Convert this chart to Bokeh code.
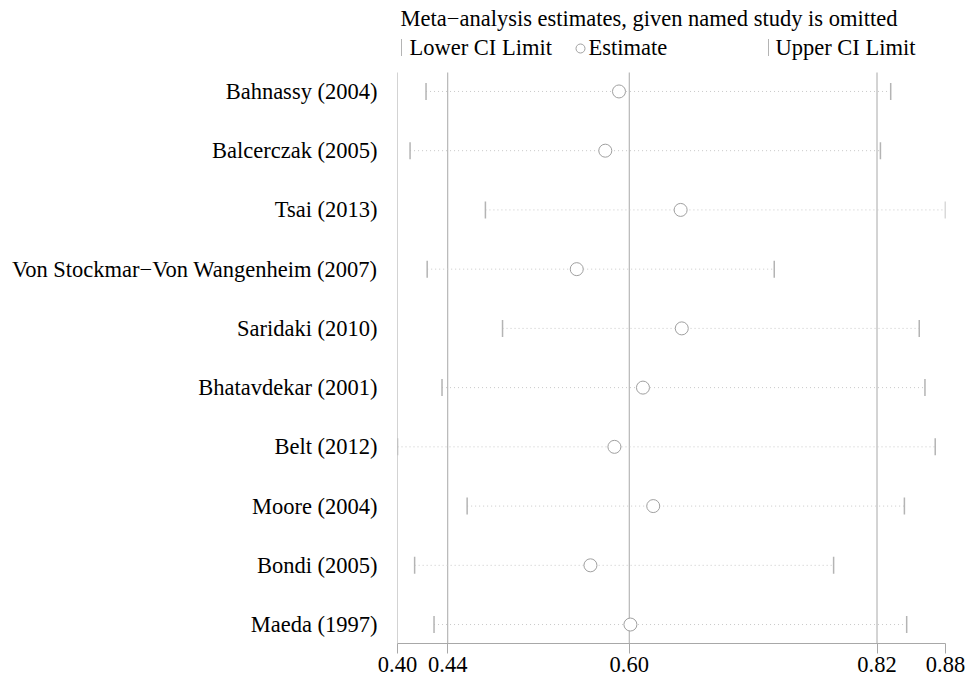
import numpy as np
from bokeh.plotting import figure
from bokeh.models import Range1d, FixedTicker, NumeralTickFormatter
from bokeh.core.properties import value
from bokeh.embed import file_html
from bokeh.resources import INLINE

# Influence analysis: pooled estimate with 95% CI when each named study is left out
studies = [
    "Bahnassy (2004)",
    "Balcerczak (2005)",
    "Tsai (2013)",
    "Von Stockmar\u2212Von Wangenheim (2007)",
    "Saridaki (2010)",
    "Bhatavdekar (2001)",
    "Belt (2012)",
    "Moore (2004)",
    "Bondi (2005)",
    "Maeda (1997)",
]
estimate = [0.594, 0.582, 0.648, 0.557, 0.649, 0.615, 0.590, 0.624, 0.569, 0.604]
lower_ci = [0.425, 0.411, 0.477, 0.426, 0.492, 0.439, 0.400, 0.461, 0.415, 0.432]
upper_ci = [0.832, 0.823, 0.880, 0.730, 0.857, 0.862, 0.871, 0.844, 0.782, 0.846]

# pooled result with all studies included
overall_lower = 0.444
overall_estimate = 0.603
overall_upper = 0.820

FONT = "Liberation Serif"
FS = "22.5px"
AXIS_GREY = "#a8a8a8"
TICK_GREY = "#b4b4b4"

W, H = 973, 679
LEFT, RIGHT, BOTTOM = 397, 28, 36
PLOT_TOP = 72  # pixel row where the study area starts; header sits above it

n = len(studies)
rows = list(range(n, 0, -1))  # first study on top
x0, x1 = min(lower_ci), max(upper_ci)
y0, y_top = 1 - 0.32, n + 0.32
# the frame reaches the top of the canvas so the header can be drawn in it
units_per_px = (y_top - y0) / (H - BOTTOM - PLOT_TOP)
y1 = y0 + (H - BOTTOM) * units_per_px

p = figure(
    width=W, height=H,
    x_range=Range1d(x0, x1), y_range=Range1d(y0, y1),
    output_backend="svg", toolbar_location=None,
    min_border_left=LEFT, min_border_right=RIGHT,
    min_border_top=0, min_border_bottom=BOTTOM,
)
p.grid.visible = False
p.outline_line_color = None
p.background_fill_color = "white"
p.border_fill_color = "white"

# x axis: ticks at the range ends and the pooled CI / estimate
p.xaxis.ticker = FixedTicker(ticks=[x0, overall_lower, overall_estimate, overall_upper, x1])
p.xaxis.formatter = NumeralTickFormatter(format="0.00")
p.xaxis.axis_line_color = AXIS_GREY
p.xaxis.major_tick_line_color = AXIS_GREY
p.xaxis.major_tick_out = 10
p.xaxis.major_tick_in = 0
p.xaxis.minor_tick_line_color = None
p.xaxis.major_label_standoff = 3
p.xaxis.major_label_text_font = FONT
p.xaxis.major_label_text_font_size = FS
p.xaxis.major_label_text_color = "black"

# y axis: one row per omitted study (its line is drawn below, only over the rows)
p.yaxis.ticker = FixedTicker(ticks=rows)
p.yaxis.major_label_overrides = {r: s for r, s in zip(rows, studies)}
p.yaxis.axis_line_color = None
p.yaxis.major_tick_line_color = None
p.yaxis.minor_tick_line_color = None
p.yaxis.major_label_standoff = 14
p.yaxis.major_label_text_font = FONT
p.yaxis.major_label_text_font_size = FS
p.yaxis.major_label_text_color = "black"

# left axis line plus reference lines at the pooled lower CI, estimate and upper CI
vx = [x0, overall_lower, overall_estimate, overall_upper]
p.segment(x0=vx, y0=[y0] * len(vx), x1=vx, y1=[y_top] * len(vx),
          line_color=AXIS_GREY, line_width=1)

# dotted CI ranges, end ticks and estimate circles
p.segment(x0=lower_ci, y0=rows, x1=upper_ci, y1=rows,
          line_color="#c8c8c8", line_width=1, line_dash="1 3")
p.scatter(lower_ci, rows, marker="dash", angle=np.pi / 2, size=17,
          line_color=TICK_GREY, line_width=1.5)
p.scatter(upper_ci, rows, marker="dash", angle=np.pi / 2, size=17,
          line_color=TICK_GREY, line_width=1.5)
p.scatter(estimate, rows, marker="circle", size=13,
          line_color="#a0a0a0", fill_color="white", line_width=1)


# header, positioned in pixels and converted to data space
def dx(px):
    return x0 + (px - LEFT) / (W - LEFT - RIGHT) * (x1 - x0)


def dy(py):
    return y0 + (H - BOTTOM - py) * units_per_px


header_text = ["Meta\u2212analysis estimates, given named study is omitted",
               "Lower CI Limit", "Estimate", "Upper CI Limit"]
header_px = [(400, 18), (409, 47), (588, 47), (775, 47)]
p.text(x=[dx(a) for a, _ in header_px], y=[dy(b) for _, b in header_px], text=header_text,
       text_font=value(FONT), text_font_size=FS, text_color="black",
       text_baseline="middle", text_align="left")

# legend keys
p.scatter([dx(401), dx(768)], [dy(47)] * 2, marker="dash", angle=np.pi / 2, size=17,
          line_color=TICK_GREY, line_width=1)
p.scatter([dx(580)], [dy(48)], marker="circle", size=9,
          line_color="#a0a0a0", fill_color="white", line_width=1)

open("out.html", "w").write(file_html(p, INLINE))
